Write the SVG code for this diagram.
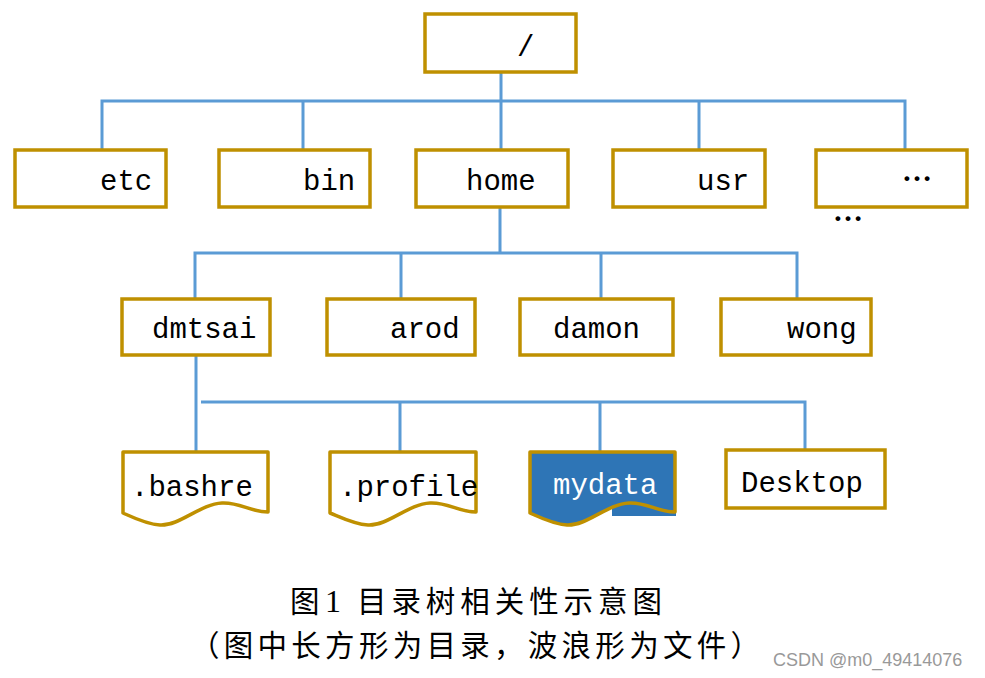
<svg xmlns="http://www.w3.org/2000/svg" width="985" height="678" viewBox="0 0 985 678">
<style>
.box{fill:#fff;stroke:#BF9000;stroke-width:3.5}
.file{fill:#fff;stroke:#BF9000;stroke-width:3.5;stroke-linejoin:round}
.con{stroke:#5B9BD5;stroke-width:3;fill:none}
.t{font-family:"Liberation Mono",monospace;font-size:29px;fill:#000}
.dots{font-family:"Liberation Serif",serif;font-size:30px;font-weight:bold;fill:#000}
.cap{font-family:"Noto Sans CJK SC",sans-serif;font-size:29.5px;fill:#000}
</style>
<rect width="985" height="678" fill="#fff"/>
<g id="connectors">
<path class="con" d="M501,72V150M102,150V101H905V150M303,101V150M699,101V150"/>
<path class="con" d="M500,207V253M195,299V253H797V299M401,253V299M601,253V299"/>
<path class="con" d="M196,355V452M201,402H805V450M400,402V452M600,402V452"/>
</g>
<g id="root"><rect class="box" x="425" y="14" width="151" height="58"/><text class="t" x="517" y="56">/</text></g>
<g id="etc"><rect class="box" x="15" y="150" width="151" height="57"/><text class="t" x="100" y="190">etc</text></g>
<g id="bin"><rect class="box" x="219" y="150" width="151" height="57"/><text class="t" x="303" y="190">bin</text></g>
<g id="home"><rect class="box" x="416" y="150" width="152" height="57"/><text class="t" x="466" y="190">home</text></g>
<g id="usr"><rect class="box" x="613" y="150" width="152" height="57"/><text class="t" x="697" y="190">usr</text></g>
<g id="more"><rect class="box" x="816" y="150" width="151" height="57"/><text class="dots" x="902" y="181">…</text></g>
<g id="more2"><text class="dots" x="833" y="221">…</text></g>
<g id="dmtsai"><rect class="box" x="122" y="299" width="148" height="56"/><text class="t" x="152" y="338">dmtsai</text></g>
<g id="arod"><rect class="box" x="327" y="299" width="148" height="56"/><text class="t" x="390" y="338">arod</text></g>
<g id="damon"><rect class="box" x="520" y="299" width="153" height="56"/><text class="t" x="553" y="338">damon</text></g>
<g id="wong"><rect class="box" x="721" y="299" width="150" height="56"/><text class="t" x="787" y="338">wong</text></g>
<g id="bashre"><path class="file" d="M123,452H268V512C250,512 240,502 222,503C200,504 180,526 160,525C145,524 130,516 123,513Z"/><text class="t" x="131" y="496">.bashre</text></g>
<g id="profile"><path class="file" d="M330,452H476V512C458,512 448,502 430,503C408,504 388,526 368,525C353,524 338,516 330,513Z"/><text class="t" x="339" y="496">.profile</text></g>
<g id="mydata"><rect x="612" y="500" width="64" height="16" fill="#2E75B6"/><path class="file" style="fill:#2E75B6" d="M530,452H675V512C657,512 647,502 629,503C607,504 587,526 567,525C552,524 537,516 530,513Z"/><text class="t" style="fill:#fff" x="553" y="494">mydata</text></g>
<g id="desktop"><rect class="box" x="726" y="450" width="159" height="58"/><text class="t" x="741" y="492">Desktop</text></g>
<g id="caption">
<text class="cap" y="612"><tspan x="290">图</tspan><tspan x="325" style="font-family:'Liberation Serif',serif;font-size:32px">1</tspan><tspan x="357" textLength="305" lengthAdjust="spacing">目录树相关性示意图</tspan></text>
<text class="cap" x="190" y="656" textLength="570" lengthAdjust="spacing">（图中长方形为目录，波浪形为文件）</text>
<text x="773" y="666" style="font-family:'Liberation Sans',sans-serif;font-size:18px;fill:#999">CSDN @m0_49414076</text>
</g>
</svg>
